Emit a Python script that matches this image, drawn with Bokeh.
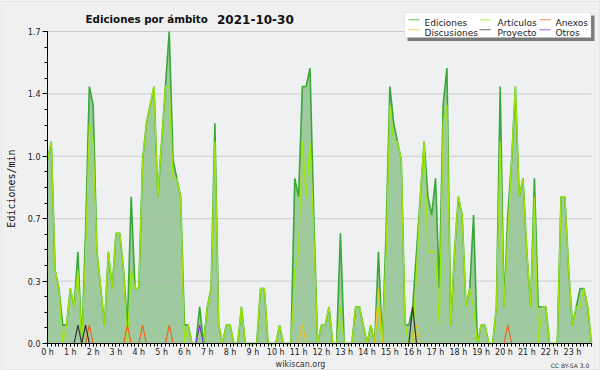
import math
from bokeh.plotting import figure
from bokeh.models import (Range1d, FixedTicker, Label, BoxAnnotation,
                          ColumnDataSource, CustomJSTickFormatter)
from bokeh.embed import file_html
from bokeh.resources import INLINE

# ---------------- data (edits per minute, 10-minute bins) ----------------
TITLE = "Ediciones por ámbito"
DATE = "2021-10-30"
HOURS = list(range(24))
Y_TICKS = [0, 0.34, 0.68, 1.02, 1.36, 1.7]

ediciones = [
    1.0, 1.1, 0.4, 0.3, 0.1, 0.1, 0.3, 0.2, 0.5, 0.0,
    0.6, 1.4, 1.3, 0.5, 0.3, 0.1, 0.5, 0.3, 0.6, 0.6,
    0.4, 0.1, 0.8, 0.3, 0.3, 1.0, 1.2, 1.3, 1.4, 0.8,
    1.1, 1.4, 1.7, 1.0, 0.9, 0.8, 0.1, 0.1, 0.0, 0.0,
    0.2, 0.0, 0.2, 0.3, 1.2, 0.1, 0.0, 0.1, 0.1, 0.0,
    0.0, 0.2, 0.0, 0.0, 0.0, 0.0, 0.3, 0.3, 0.0, 0.0,
    0.0, 0.1, 0.0, 0.0, 0.0, 0.9, 0.8, 1.4, 1.4, 1.5,
    0.7, 0.0, 0.1, 0.1, 0.2, 0.0, 0.0, 0.6, 0.0, 0.0,
    0.0, 0.2, 0.2, 0.1, 0.0, 0.1, 0.0, 0.5, 0.0, 0.6,
    1.4, 1.2, 1.1, 1.0, 0.1, 0.1, 0.2, 0.5, 0.8, 1.1,
    0.8, 0.7, 0.9, 0.3, 1.3, 1.5, 0.1, 0.5, 0.8, 0.7,
    0.2, 0.3, 0.7, 0.0, 0.1, 0.1, 0.0, 0.0, 0.2, 1.4,
    0.2, 0.7, 1.0, 1.4, 0.8, 0.9, 0.5, 0.2, 0.9, 0.2,
    0.2, 0.2, 0.0, 0.0, 0.0, 0.8, 0.8, 0.4, 0.1, 0.2,
    0.3, 0.3, 0.2, 0.0,
]
articulos = [
    1.0, 1.1, 0.4, 0.3, 0.0, 0.1, 0.3, 0.2, 0.4, 0.0,
    0.5, 1.2, 1.1, 0.5, 0.3, 0.1, 0.5, 0.3, 0.6, 0.6,
    0.4, 0.0, 0.4, 0.3, 0.3, 1.0, 1.2, 1.3, 1.4, 0.8,
    1.1, 1.4, 1.4, 0.9, 0.9, 0.8, 0.0, 0.1, 0.0, 0.0,
    0.1, 0.0, 0.2, 0.3, 1.1, 0.1, 0.0, 0.1, 0.1, 0.0,
    0.0, 0.2, 0.0, 0.0, 0.0, 0.0, 0.3, 0.3, 0.0, 0.0,
    0.0, 0.1, 0.0, 0.0, 0.0, 0.4, 0.5, 1.1, 0.8, 1.1,
    0.6, 0.0, 0.1, 0.1, 0.2, 0.0, 0.0, 0.2, 0.0, 0.0,
    0.0, 0.2, 0.2, 0.1, 0.0, 0.1, 0.0, 0.2, 0.0, 0.5,
    1.3, 1.1, 1.1, 1.0, 0.1, 0.0, 0.0, 0.4, 0.8, 1.1,
    0.5, 0.5, 0.5, 0.1, 1.2, 1.3, 0.1, 0.5, 0.8, 0.7,
    0.2, 0.3, 0.2, 0.0, 0.1, 0.1, 0.0, 0.0, 0.2, 1.1,
    0.2, 0.6, 1.0, 1.4, 0.8, 0.9, 0.5, 0.2, 0.8, 0.0,
    0.2, 0.2, 0.0, 0.0, 0.0, 0.8, 0.8, 0.4, 0.1, 0.2,
    0.2, 0.3, 0.2, 0.0,
]
# sparse namespaces: {bin index: value}
discusiones = {67: 0.1, 87: 0.3, 97: 0.1}
anexos = {11: 0.1, 21: 0.1, 25: 0.1, 32: 0.1, 121: 0.1}
proyecto = {8: 0.1, 10: 0.1, 96: 0.2}
otros = {40: 0.1}

N = len(ediciones)
x = [i / 6 for i in range(N)]          # hours
XMAX = (N - 1) / 6
YMAX = 1.7

# ---------------- layout (plot area in canvas pixels) ----------------
W, H = 600, 370
PL, PR, PT, PB = 47, 591, 31, 343     # plot area edges


def dx(px):  # canvas pixel -> data x
    return (px - PL) * XMAX / (PR - PL)


def dy(py):  # canvas pixel -> data y
    return (PB - py) * YMAX / (PB - PT)


p = figure(width=W, height=H, output_backend="svg", toolbar_location=None,
           x_range=Range1d(dx(0), dx(W)), y_range=Range1d(dy(H), dy(0)),
           min_border=0)
p.background_fill_color = "#f0f0f0"
p.border_fill_color = "#f0f0f0"
p.outline_line_color = None
p.xgrid.visible = False
p.ygrid.visible = False

# plot-area background
p.add_layout(BoxAnnotation(left=0, right=XMAX, bottom=0, top=YMAX,
                           fill_color="#eef0f2", fill_alpha=1,
                           line_color=None, level="underlay"))

xa, ya = p.xaxis[0], p.yaxis[0]
xa.fixed_location = 0
ya.fixed_location = 0
xa.bounds = (0, XMAX)
ya.bounds = (0, YMAX)
xa.ticker = FixedTicker(ticks=HOURS, minor_ticks=x)
xa.formatter = CustomJSTickFormatter(code="return tick + ' h';")
ya.ticker = FixedTicker(ticks=Y_TICKS,
                        minor_ticks=[k * 0.085 for k in range(21)])
ya.formatter = CustomJSTickFormatter(code="return tick.toFixed(1);")
for ax in (xa, ya):
    ax.axis_line_color = "black"
    ax.major_tick_line_color = "black"
    ax.minor_tick_line_color = "black"
    ax.major_tick_in = 0
    ax.minor_tick_in = 0
    ax.major_label_text_font = "DejaVu Sans"
    ax.major_label_text_font_size = "8px"
    ax.major_label_text_color = "#222222"
xa.major_tick_out = 3
xa.minor_tick_out = 3
xa.major_label_standoff = 1
ya.major_tick_out = 5
ya.minor_tick_out = 3
ya.major_label_standoff = 2

C_ED = "#38a838"
C_ART = "#9ee60c"
C_DIS = "#f2c21a"
C_ANX = "#f0641e"
C_PRO = "#333333"
C_OTR = "#7a2ee8"
C_FILL = "#9fca9f"


def expand(sparse):
    vals = [sparse.get(i, 0.0) for i in range(N)]
    out = []
    for i in range(N):
        near = any(vals[j] > 0 for j in (i - 1, i, i + 1) if 0 <= j < N)
        out.append(vals[i] if near else float("nan"))
    return out


src = ColumnDataSource(dict(x=x, e=ediciones, a=articulos,
                            d=expand(discusiones), n=expand(anexos),
                            pr=expand(proyecto), o=expand(otros)))

p.varea(x="x", y1=0, y2="e", source=src, fill_color=C_FILL)
# horizontal grid lines
p.segment(x0=0, x1=XMAX, y0=Y_TICKS[1:], y1=Y_TICKS[1:],
          line_color="#b8b8b8", line_alpha=0.65, line_width=1)
p.line("x", "e", source=src, line_color=C_ED, line_width=1.6)
p.line("x", "a", source=src, line_color=C_ART, line_width=1.3)
p.line("x", "d", source=src, line_color=C_DIS, line_width=1.2)
p.line("x", "n", source=src, line_color=C_ANX, line_width=1.2)
p.line("x", "pr", source=src, line_color=C_PRO, line_width=1.2)
p.line("x", "o", source=src, line_color=C_OTR, line_width=1.2)

# ---------------- texts ----------------
p.add_layout(Label(x=dx(85), y=dy(18.5), text=TITLE,
                   text_font="DejaVu Sans", text_font_style="bold",
                   text_font_size="10.3px", text_color="#111111",
                   text_baseline="alphabetic"))
p.add_layout(Label(x=dx(216.5), y=dy(18.5), text=DATE,
                   text_font="DejaVu Sans", text_font_style="bold",
                   text_font_size="12px", text_color="#111111",
                   text_baseline="alphabetic"))
p.add_layout(Label(x=dx(10.5), y=dy(188), text="Ediciones/min",
                   angle=math.pi / 2, text_align="center",
                   text_baseline="middle",
                   text_font="DejaVu Sans Mono",
                   text_font_size="10px", text_color="#111111"))
p.add_layout(Label(x=dx(300), y=dy(364), text="wikiscan.org",
                   text_align="center", text_baseline="alphabetic",
                   text_font="DejaVu Sans", text_font_size="8px",
                   text_color="#333333"))
p.add_layout(Label(x=dx(569.5), y=dy(365), text="CC BY-SA 3.0",
                   text_align="center", text_baseline="alphabetic",
                   text_font="DejaVu Sans", text_font_size="6px",
                   text_color="#333333"))

# outer border of the picture
p.add_layout(BoxAnnotation(left=dx(0.5), right=dx(599.5), top=dy(0.5),
                           bottom=dy(369.5), fill_alpha=0,
                           line_color="#b0b0b0", line_width=1))

# ---------------- legend ----------------
p.add_layout(BoxAnnotation(left=dx(407), right=dx(594), top=dy(15),
                           bottom=dy(40.5), fill_color="#7a7a7a",
                           fill_alpha=1, line_color=None))
p.add_layout(BoxAnnotation(left=dx(404), right=dx(590.5), top=dy(12),
                           bottom=dy(37), fill_color="white", fill_alpha=1,
                           line_color="#bbbbbb", line_width=1))

legend_items = [
    ("Ediciones", C_ED, 408, 424, 0), ("Artículos", C_ART, 479, 497, 0),
    ("Anexos", C_ANX, 539, 555, 0), ("Discusiones", C_DIS, 408, 424, 1),
    ("Proyecto", C_PRO, 479, 497, 1), ("Otros", C_OTR, 539, 555, 1),
]
row_line = [19.3, 29.3]
row_base = [22.7, 32.3]
for name, col, lx, tx, r in legend_items:
    p.add_layout(BoxAnnotation(left=dx(lx), right=dx(lx + 11),
                               top=dy(row_line[r] - 0.5),
                               bottom=dy(row_line[r] + 0.5),
                               fill_color=col, fill_alpha=0.75,
                               line_color=None))
    p.add_layout(Label(x=dx(tx), y=dy(row_base[r]), text=name,
                       text_baseline="alphabetic",
                       text_font="DejaVu Sans", text_font_size="9px",
                       text_color="#222222"))

open("out.html", "w").write(file_html(p, INLINE))
